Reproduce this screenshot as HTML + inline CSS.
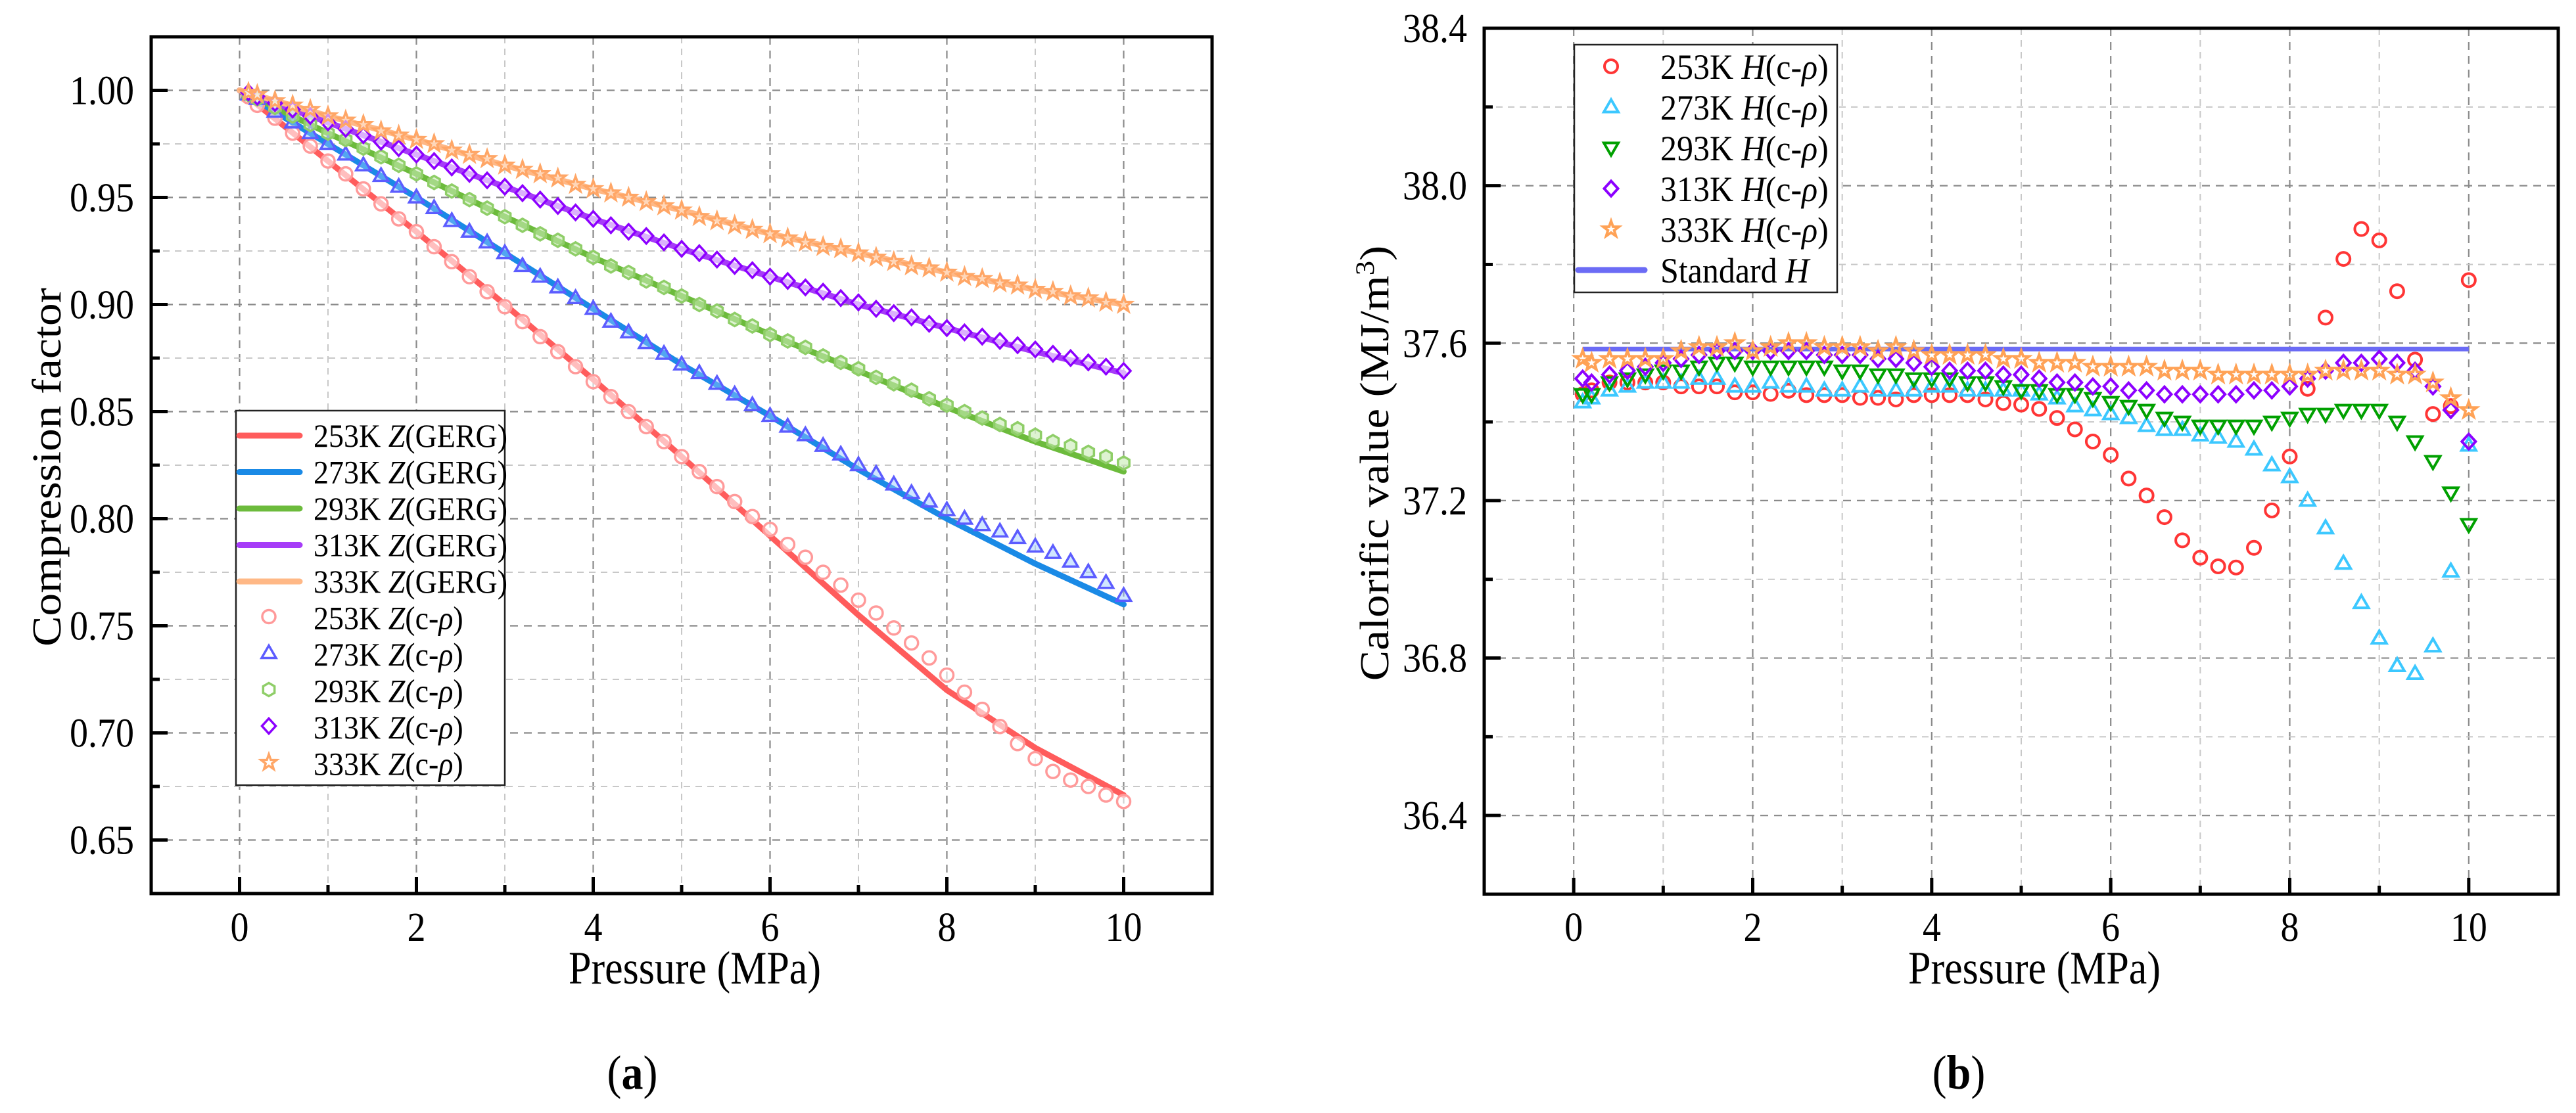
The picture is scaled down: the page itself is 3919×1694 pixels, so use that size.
<!DOCTYPE html>
<html><head><meta charset="utf-8"><style>
html,body{margin:0;padding:0;background:#fff;}
svg{display:block;font-family:"Liberation Serif",serif;}
</style></head><body>
<svg id="fig" width="3919" height="1694" viewBox="0 0 3919 1694" xmlns="http://www.w3.org/2000/svg">
<g id="chartA"></g>
<g id="chartB"></g>
</svg>
<script>
// ---------- Data: chart (a) ----------
const pressMarkers = [0.1,0.2,0.4,0.6,0.8,1.0,1.2,1.4,1.6,1.8,2.0,2.2,2.4,2.6,2.8,3.0,3.2,3.4,3.6,3.8,4.0,4.2,4.4,4.6,4.8,5.0,5.2,5.4,5.6,5.8,6.0,6.2,6.4,6.6,6.8,7.0,7.2,7.4,7.6,7.8,8.0,8.2,8.4,8.6,8.8,9.0,9.2,9.4,9.6,9.8,10];
const pressLine = [0,1,2,3,4,5,6,7,8,9,10];
const gerg253 = [1,0.967,0.934,0.900,0.865,0.829,0.792,0.755,0.720,0.693,0.671];
const gerg273 = [1,0.975,0.950,0.924,0.898,0.872,0.848,0.823,0.800,0.779,0.760];
const gerg293 = [1,0.980,0.961,0.941,0.922,0.904,0.886,0.869,0.852,0.836,0.822];
const gerg313 = [1,0.985,0.970,0.955,0.940,0.926,0.913,0.900,0.889,0.878,0.868];
const gerg333 = [1,0.988,0.977,0.965,0.954,0.944,0.933,0.924,0.915,0.907,0.900];
const zc253 = [0.997,0.993,0.987,0.980,0.974,0.967,0.961,0.954,0.947,0.940,0.934,0.927,0.920,0.913,0.906,0.899,0.892,0.885,0.878,0.871,0.864,0.857,0.850,0.843,0.836,0.829,0.822,0.815,0.808,0.801,0.795,0.788,0.782,0.775,0.769,0.762,0.756,0.749,0.742,0.735,0.727,0.719,0.711,0.703,0.695,0.688,0.682,0.678,0.675,0.671,0.668];
const zc273 = [0.998,0.996,0.990,0.985,0.980,0.975,0.970,0.965,0.960,0.955,0.950,0.945,0.939,0.934,0.929,0.924,0.918,0.913,0.908,0.903,0.898,0.892,0.887,0.882,0.877,0.872,0.868,0.863,0.858,0.853,0.848,0.843,0.839,0.834,0.830,0.825,0.821,0.816,0.812,0.808,0.804,0.800,0.797,0.794,0.791,0.787,0.784,0.780,0.775,0.770,0.764];
const zc293 = [0.998,0.996,0.992,0.988,0.984,0.980,0.977,0.973,0.969,0.965,0.961,0.957,0.953,0.949,0.945,0.941,0.937,0.933,0.930,0.926,0.922,0.918,0.915,0.911,0.908,0.904,0.900,0.897,0.893,0.890,0.886,0.883,0.880,0.876,0.873,0.870,0.866,0.863,0.860,0.856,0.853,0.850,0.847,0.844,0.842,0.839,0.836,0.834,0.831,0.829,0.826];
const zc313 = [0.999,0.997,0.994,0.991,0.988,0.985,0.982,0.979,0.976,0.973,0.970,0.967,0.964,0.961,0.958,0.955,0.952,0.949,0.946,0.943,0.940,0.937,0.934,0.932,0.929,0.926,0.924,0.921,0.918,0.916,0.913,0.911,0.908,0.906,0.903,0.901,0.898,0.896,0.894,0.891,0.889,0.887,0.885,0.883,0.881,0.879,0.877,0.875,0.873,0.871,0.869];
const zc333 = [0.999,0.998,0.995,0.993,0.991,0.988,0.986,0.984,0.981,0.979,0.977,0.975,0.972,0.970,0.968,0.965,0.963,0.961,0.959,0.956,0.954,0.952,0.950,0.948,0.946,0.944,0.941,0.939,0.937,0.935,0.933,0.931,0.929,0.927,0.926,0.924,0.922,0.920,0.918,0.917,0.915,0.913,0.912,0.910,0.909,0.907,0.906,0.904,0.903,0.901,0.900];
const yTicksA = [0.65,0.70,0.75,0.80,0.85,0.90,0.95,1.00];
const yTickLabelsA = ["0.65","0.70","0.75","0.80","0.85","0.90","0.95","1.00"];
const xTicks = [0,2,4,6,8,10];
const xTickLabels = ["0","2","4","6","8","10"];

// ---------- Data: chart (b) ----------
const hc253 = [37.47,37.48,37.50,37.50,37.50,37.50,37.49,37.49,37.49,37.475,37.475,37.471,37.479,37.468,37.468,37.468,37.461,37.461,37.457,37.468,37.468,37.468,37.468,37.457,37.448,37.444,37.433,37.41,37.381,37.35,37.316,37.256,37.213,37.158,37.099,37.055,37.033,37.03,37.08,37.175,37.312,37.484,37.665,37.814,37.89,37.861,37.732,37.558,37.42,37.44,37.76];
const hc273 = [37.45,37.46,37.48,37.49,37.50,37.50,37.50,37.51,37.51,37.49,37.49,37.50,37.49,37.49,37.48,37.48,37.49,37.48,37.48,37.48,37.49,37.49,37.48,37.48,37.48,37.48,37.47,37.46,37.44,37.43,37.42,37.41,37.39,37.38,37.38,37.366,37.36,37.35,37.33,37.29,37.26,37.20,37.13,37.04,36.94,36.85,36.78,36.76,36.83,37.02,37.34];
const hc293 = [37.47,37.47,37.50,37.51,37.52,37.53,37.53,37.54,37.55,37.55,37.54,37.54,37.54,37.54,37.54,37.53,37.53,37.52,37.52,37.51,37.51,37.51,37.50,37.50,37.49,37.48,37.48,37.47,37.47,37.46,37.45,37.44,37.43,37.41,37.40,37.39,37.39,37.39,37.39,37.40,37.41,37.42,37.42,37.43,37.43,37.43,37.40,37.35,37.30,37.22,37.14];
const hc313 = [37.51,37.50,37.52,37.53,37.54,37.55,37.56,37.57,37.58,37.58,37.58,37.58,37.58,37.58,37.57,37.57,37.57,37.56,37.56,37.55,37.54,37.53,37.53,37.53,37.52,37.52,37.51,37.50,37.50,37.49,37.49,37.48,37.48,37.47,37.47,37.47,37.47,37.47,37.48,37.48,37.49,37.51,37.53,37.55,37.55,37.56,37.55,37.53,37.49,37.43,37.35];
const hc333 = [37.56,37.55,37.56,37.56,37.56,37.56,37.58,37.59,37.59,37.60,37.58,37.59,37.60,37.60,37.59,37.59,37.59,37.58,37.59,37.58,37.57,37.57,37.57,37.57,37.56,37.56,37.55,37.55,37.55,37.54,37.54,37.54,37.54,37.53,37.53,37.53,37.52,37.52,37.52,37.52,37.52,37.52,37.53,37.53,37.53,37.53,37.52,37.52,37.50,37.46,37.43];
const stdPress = [0.1,10];
const stdH = [37.585,37.585];
const yTicksB = [36.4,36.8,37.2,37.6,38.0,38.4];
const yTickLabelsB = ["36.4","36.8","37.2","37.6","38.0","38.4"];

const NS = "http://www.w3.org/2000/svg";
function mk(parent, tag, attrs){
  const e = document.createElementNS(NS, tag);
  for (const k in attrs) e.setAttribute(k, attrs[k]);
  parent.appendChild(e);
  return e;
}
// stretched text: placed at (x,y) with vertical scale sy
function stext(parent, x, y, size, anchor, sy){
  return mk(parent, "text", {x:0, y:0, "font-size":size, "text-anchor":anchor, transform:`translate(${x},${y}) scale(1,${sy})`});
}

const A = {x0:230, x1:1844, y0:56, y1:1360, xmin:-1, xmax:11, ymin:0.625, ymax:1.025};
const B = {x0:2258, x1:3892, y0:43, y1:1361, xmin:-1, xmax:11, ymin:36.2, ymax:38.4};
function sx(P, v){ return P.x0 + (v - P.xmin) / (P.xmax - P.xmin) * (P.x1 - P.x0); }
function sy(P, v){ return P.y1 - (v - P.ymin) / (P.ymax - P.ymin) * (P.y1 - P.y0); }

function markerPath(shape, x, y, r){
  if (shape === "tri") return `M${x},${y-r*1.15} L${x+r*1.1},${y+r*0.75} L${x-r*1.1},${y+r*0.75} Z`;
  if (shape === "tridown") return `M${x},${y+r*1.15} L${x+r*1.1},${y-r*0.75} L${x-r*1.1},${y-r*0.75} Z`;
  if (shape === "diamond") return `M${x},${y-r*1.15} L${x+r*1.05},${y} L${x},${y+r*1.15} L${x-r*1.05},${y} Z`;
  if (shape === "hex") { let d=""; for(let i=0;i<6;i++){const a=Math.PI/3*i+Math.PI/6; d+=(i?"L":"M")+(x+r*Math.cos(a))+","+(y+r*Math.sin(a));} return d+"Z"; }
  if (shape === "star") { let d=""; for(let i=0;i<10;i++){const a=-Math.PI/2+Math.PI/5*i; const rr=i%2?r*0.5:r*1.25; d+=(i?"L":"M")+(x+rr*Math.cos(a))+","+(y+rr*Math.sin(a));} return d+"Z"; }
  return null;
}
function drawMarker(g, shape, x, y, r, stroke, fill, sw){
  if (shape === "circle") return mk(g, "circle", {cx:x, cy:y, r:r, fill:fill, stroke:stroke, "stroke-width":sw});
  return mk(g, "path", {d:markerPath(shape,x,y,r), fill:fill, stroke:stroke, "stroke-width":sw});
}

function frame(root, P, yTicks, yMinorStep, name){
  const grid = mk(root, "g", {});
  
  
  for (let v = 1; v <= 9; v += 2) {
    const X = sx(P, v);
    const l = mk(grid, "line", {x1:X, x2:X, y1:P.y0, y2:P.y1, stroke:"#c8c8c8", "stroke-width":2, "stroke-dasharray":"10 8"});
    
    
  }
  for (const v of xTicks) {
    const X = sx(P, v);
    const l = mk(grid, "line", {x1:X, x2:X, y1:P.y0, y2:P.y1, stroke:"#8a8a8a", "stroke-width":2.2, "stroke-dasharray":"12 9"});
    
    
  }
  for (let i = 0; i < yTicks.length; i++) {
    const Y = sy(P, yTicks[i]);
    const l = mk(grid, "line", {x1:P.x0, x2:P.x1, y1:Y, y2:Y, stroke:"#8a8a8a", "stroke-width":2.2, "stroke-dasharray":"12 9"});
    
    
    const Ym = sy(P, yTicks[i] + yMinorStep);
    if (Ym > P.y0 + 2) {
      const m = mk(grid, "line", {x1:P.x0, x2:P.x1, y1:Ym, y2:Ym, stroke:"#c8c8c8", "stroke-width":2, "stroke-dasharray":"10 8"});
      
      
    }
  }
  const Yb = sy(P, yTicks[0] - yMinorStep);
  if (Yb < P.y1 - 2) {
    const m = mk(grid, "line", {x1:P.x0, x2:P.x1, y1:Yb, y2:Yb, stroke:"#c8c8c8", "stroke-width":2, "stroke-dasharray":"10 8"});
    
    
  }
}

function axes(root, P, yTicks, yLabels, yMinorStep, name){
  const ax = mk(root, "g", {});
  
  
  const box = mk(ax, "rect", {x:P.x0, y:P.y0, width:P.x1-P.x0, height:P.y1-P.y0, fill:"none", stroke:"#000", "stroke-width":5});
  
  
  for (let v = 0; v <= 10; v++) {
    const X = sx(P, v);
    const len = v % 2 === 0 ? 25 : 13;
    const t = mk(ax, "line", {x1:X, x2:X, y1:P.y1, y2:P.y1-len, stroke:"#000", "stroke-width":5});
    
    
  }
  for (let i = 0; i < xTicks.length; i++) {
    const tx = stext(ax, sx(P, xTicks[i]), 1432, 56, "middle", 1.12);
    tx.textContent = xTickLabels[i];
    
    
  }
  const allY = [];
  for (const v of yTicks) { allY.push([v, true]); allY.push([v + yMinorStep, false]); }
  allY.push([yTicks[0] - yMinorStep, false]);
  for (const [v, major] of allY) {
    const Y = sy(P, v);
    if (Y < P.y0 + 2 || Y > P.y1 - 2) continue;
    const t = mk(ax, "line", {x1:P.x0, x2:P.x0 + (major ? 25 : 13), y1:Y, y2:Y, stroke:"#000", "stroke-width":5});
    
    
  }
  for (let i = 0; i < yTicks.length; i++) {
    const ty = stext(ax, P.x0 - 26, sy(P, yTicks[i]) + 21, 56, "end", 1.12);
    ty.textContent = yLabels[i];
    
    
  }
  const xt = stext(ax, (P.x0+P.x1)/2 + 20, 1497, 62, "middle", 1.15);
  xt.textContent = "Pressure (MPa)";
  
  
}

// ---------- Chart A ----------
const gA = document.getElementById("chartA");
frame(gA, A, yTicksA, 0.025, "chart-a");
const lineSeries = [[gerg253,"#ff5c5c","253"],[gerg273,"#1a8ae6","273"],[gerg293,"#6cbb3c","293"],[gerg313,"#a63cf8","313"],[gerg333,"#ffb886","333"]];
const zMarkerSeries = [[zc253,"circle","#ff9a9a","rgba(255,255,255,0.6)","253"],[zc273,"tri","#5c5cff","rgba(150,200,255,0.45)","273"],[zc293,"hex","#8fce68","rgba(200,235,180,0.6)","293"],[zc313,"diamond","#8c00ff","rgba(255,255,255,0.6)","313"],[zc333,"star","#ffa666","rgba(255,235,220,0.6)","333"]];
for (const [vals, col, k] of lineSeries) {
  let d = "";
  for (let i = 0; i < vals.length; i++) d += (i ? "L" : "M") + sx(A, pressLine[i]) + "," + sy(A, vals[i]);
  const p = mk(gA, "path", {d:d, fill:"none", stroke:col, "stroke-width":9, "stroke-linejoin":"round", "stroke-linecap":"round"});
  
  
}
for (const [vals, shape, col, fill, k] of zMarkerSeries) {
  const g = mk(gA, "g", {});
  
  
  for (let i = 0; i < vals.length; i++) {
    const m = drawMarker(g, shape, sx(A, pressMarkers[i]), sy(A, vals[i]), 10, col, fill, 3.5);
    
    
  }
}
axes(gA, A, yTicksA, yTickLabelsA, 0.025, "chart-a");
const ytA = mk(gA, "text", {x:0, y:0, "font-size":62, "text-anchor":"middle", transform:"translate(92,711) rotate(-90) scale(1.12,1)"});
ytA.textContent = "Compression factor";



const legA = mk(gA, "g", {});


const lbA = mk(legA, "rect", {x:359, y:625, width:409, height:570, fill:"#fff", stroke:"#222", "stroke-width":2.5});


for (let i = 0; i < 5; i++) {
  const Y = 663 + i * 55.5;
  const l = mk(legA, "line", {x1:364, x2:456, y1:Y, y2:Y, stroke:lineSeries[i][1], "stroke-width":9, "stroke-linecap":"round"});
  
  
  const t = stext(legA, 477, Y + 17, 46, "start", 1.08);
  t.innerHTML = lineSeries[i][2] + 'K <tspan font-style="italic">Z</tspan>(GERG)';
  
  
}
for (let i = 0; i < 5; i++) {
  const Y = 663 + (i + 5) * 55.5;
  const s = zMarkerSeries[i];
  const m = drawMarker(legA, s[1], 409, Y - 2, 10, s[2], "none", 3.5);
  
  
  const t = stext(legA, 477, Y + 17, 46, "start", 1.08);
  t.innerHTML = s[4] + 'K <tspan font-style="italic">Z</tspan>(c-<tspan font-style="italic">ρ</tspan>)';
  
  
}
const capA = stext(gA, 962, 1657, 66, "middle", 1.1);
capA.innerHTML = '(<tspan font-weight="bold">a</tspan>)';



// ---------- Chart B ----------
const gB = document.getElementById("chartB");
frame(gB, B, yTicksB, 0.2, "chart-b");
const hSeries = [[hc253,"circle","#ff3535","253"],[hc273,"tri","#3cc8ff","273"],[hc293,"tridown","#00a000","293"],[hc313,"diamond","#8c00ff","313"],[hc333,"star","#ffa256","333"]];
let dStd = "";
for (let i = 0; i < stdPress.length; i++) dStd += (i ? "L" : "M") + sx(B, stdPress[i]) + "," + sy(B, stdH[i]);
const stdLine = mk(gB, "path", {d:dStd, stroke:"#6b6bf5", "stroke-width":7, fill:"none"});


for (const [vals, shape, col, k] of hSeries) {
  const g = mk(gB, "g", {});
  
  
  for (let i = 0; i < vals.length; i++) {
    const m = drawMarker(g, shape, sx(B, pressMarkers[i]), sy(B, vals[i]), 10, col, "none", 4);
    
    
  }
}
axes(gB, B, yTicksB, yTickLabelsB, 0.2, "chart-b");
const ytB = mk(gB, "text", {x:0, y:0, "font-size":62, "text-anchor":"middle", transform:"translate(2112,705) rotate(-90) scale(1.12,1)"});
ytB.innerHTML = 'Calorific value (MJ/m<tspan font-size="40" dy="-22">3</tspan><tspan dy="22">)</tspan>';



const legB = mk(gB, "g", {});


const lbB = mk(legB, "rect", {x:2395, y:68, width:400, height:377, fill:"#fff", stroke:"#222", "stroke-width":2.5});


for (let i = 0; i < 5; i++) {
  const Y = 101 + i * 62;
  const s = hSeries[i];
  const m = drawMarker(legB, s[1], 2451, Y, 10, s[2], "none", 4);
  
  
  const t = stext(legB, 2526, Y + 19, 50, "start", 1.08);
  t.innerHTML = s[3] + 'K <tspan font-style="italic">H</tspan>(c-<tspan font-style="italic">ρ</tspan>)';
  
  
}
const stdSw = mk(legB, "line", {x1:2401, x2:2502, y1:411, y2:411, stroke:"#6b6bf5", "stroke-width":9, "stroke-linecap":"round"});


const stdT = stext(legB, 2526, 430, 50, "start", 1.08);
stdT.innerHTML = 'Standard <tspan font-style="italic">H</tspan>';



const capB = stext(gB, 2980, 1657, 66, "middle", 1.1);
capB.innerHTML = '(<tspan font-weight="bold">b</tspan>)';


</script>
</body></html>
